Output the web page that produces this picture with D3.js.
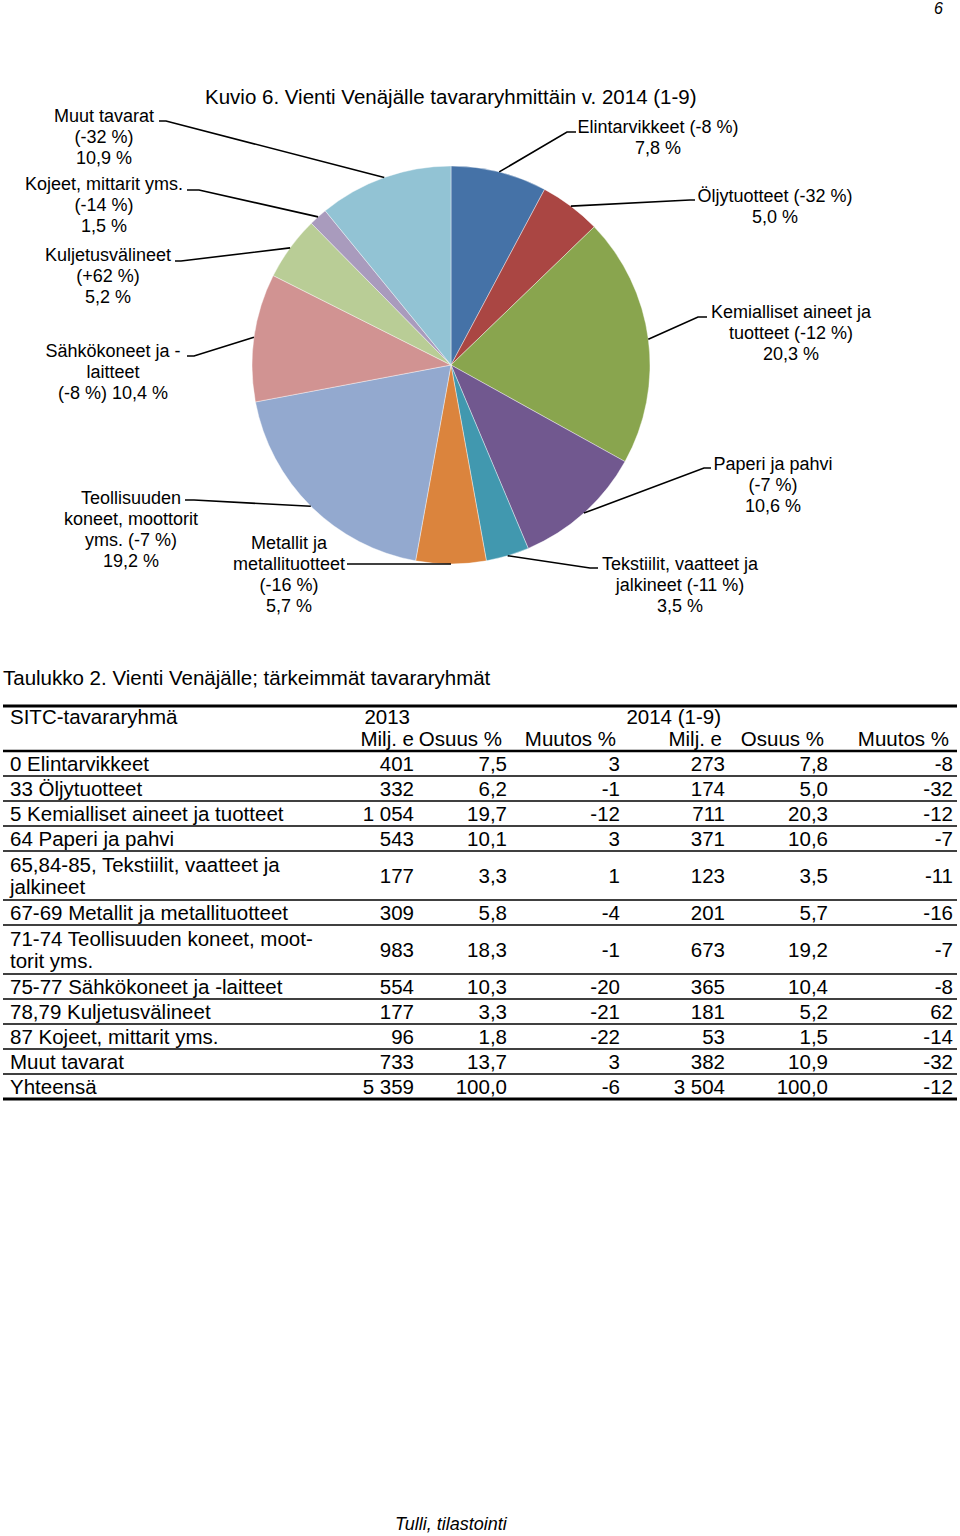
<!DOCTYPE html>
<html>
<head>
<meta charset="utf-8">
<script src="https://cdn.jsdelivr.net/npm/d3@7"></script>
<style>
  html, body { margin: 0; padding: 0; background: #fff; }
  svg { display: block; }
  text { font-family: "Liberation Sans", Arial, sans-serif; fill: #000; }
</style>
</head>
<body>
<svg id="chart" width="960" height="1536"></svg>
<script>
// ---------- Pie data (2014 (1-9)) ----------
const categories = ["Elintarvikkeet", "Öljytuotteet", "Kemialliset aineet ja tuotteet", "Paperi ja pahvi",
  "Tekstiilit, vaatteet ja jalkineet", "Metallit ja metallituotteet", "Teollisuuden koneet, moottorit yms.",
  "Sähkökoneet ja -laitteet", "Kuljetusvälineet", "Kojeet, mittarit yms.", "Muut tavarat"];
const shares2014 = [7.8, 5.0, 20.3, 10.6, 3.5, 5.7, 19.2, 10.4, 5.2, 1.5, 10.9];
const changes2014 = [-8, -32, -12, -7, -11, -16, -7, -8, 62, -14, -32];
const sliceColors = ["#4572A7", "#AA4643", "#89A54E", "#71588F", "#4198AF", "#DB843D",
  "#93A9CF", "#D19392", "#B9CD96", "#A99BBD", "#92C3D4"];
// label lines: %c = change, %s = share
const labelLines = [
  ["Elintarvikkeet %c", "%s"],
  ["Öljytuotteet %c", "%s"],
  ["Kemialliset aineet ja", "tuotteet %c", "%s"],
  ["Paperi ja pahvi", "%c", "%s"],
  ["Tekstiilit, vaatteet ja", "jalkineet %c", "%s"],
  ["Metallit ja", "metallituotteet", "%c", "%s"],
  ["Teollisuuden", "koneet, moottorit", "yms. %c", "%s"],
  ["Sähkökoneet ja -", "laitteet", "%c %s"],
  ["Kuljetusvälineet", "%c", "%s"],
  ["Kojeet, mittarit yms.", "%c", "%s"],
  ["Muut tavarat", "%c", "%s"]
];

// ---------- Table data ----------
const tableGroups = ["0 Elintarvikkeet", "33 Öljytuotteet", "5 Kemialliset aineet ja tuotteet", "64 Paperi ja pahvi",
  "65,84-85, Tekstiilit, vaatteet ja|jalkineet", "67-69 Metallit ja metallituotteet",
  "71-74 Teollisuuden koneet, moot-|torit yms.", "75-77 Sähkökoneet ja -laitteet", "78,79 Kuljetusvälineet",
  "87 Kojeet, mittarit yms.", "Muut tavarat", "Yhteensä"];
const milj2013 = [401, 332, 1054, 543, 177, 309, 983, 554, 177, 96, 733, 5359];
const osuus2013 = [7.5, 6.2, 19.7, 10.1, 3.3, 5.8, 18.3, 10.3, 3.3, 1.8, 13.7, 100.0];
const muutos2013 = [3, -1, -12, 3, 1, -4, -1, -20, -21, -22, 3, -6];
const milj2014 = [273, 174, 711, 371, 123, 201, 673, 365, 181, 53, 382, 3504];
const osuus2014 = [7.8, 5.0, 20.3, 10.6, 3.5, 5.7, 19.2, 10.4, 5.2, 1.5, 10.9, 100.0];
const muutos2014 = [-8, -32, -12, -7, -11, -16, -7, -8, 62, -14, -32, -12];
const headerTop = ["SITC-tavararyhmä", "2013", "2014 (1-9)"];
const headerSub = ["Milj. e", "Osuus %", "Muutos %", "Milj. e", "Osuus %", "Muutos %"];

// ---------- Drawing ----------
const fi = d3.formatLocale({decimal: ",", thousands: " ", grouping: [3], currency: ["", " €"], minus: "-"});
const fInt = fi.format(",d");
const f1 = fi.format(".1f");
const fSigned = fi.format("+d");

const svg = d3.select("#chart");
svg.append("rect").attr("width", 960).attr("height", 1536).attr("fill", "#fff");

// page number
svg.append("text").attr("x", 943).attr("y", 14).attr("text-anchor", "end")
  .style("font-size", "16px").style("font-style", "italic").text("6");

// title
svg.append("text").attr("x", 205).attr("y", 104).style("font-size", "20.5px")
  .text("Kuvio 6. Vienti Venäjälle tavararyhmittäin v. 2014 (1-9)");

const cx = 451, cy = 365, R = 199;
const pie = d3.pie().sort(null).value(d => d)(shares2014);
const arc = d3.arc().innerRadius(0).outerRadius(R);
const g = svg.append("g").attr("transform", `translate(${cx},${cy})`);
g.selectAll("path").data(pie).join("path")
  .attr("d", arc).attr("fill", (d, i) => sliceColors[i])
  .attr("stroke", "#fff").attr("stroke-width", 0.4);

// label layout: [anchor x (center), first baseline y, leader start x, leader start y, elbow x]
const labelLayout = [
  [658, 133, 576, 132, 567],
  [775, 202, 695, 200, 690],
  [791, 318, 707, 317, 698],
  [773, 470, 711, 468, 704],
  [680, 570, 598, 568, 590],
  [289, 549, 347, 564, 347],
  [131, 504, 185, 500, 194],
  [113, 357, 187, 356, 194],
  [108, 261, 175, 261, 181],
  [104, 190, 187, 190, 199],
  [104, 122, 159, 121, 166]
];
const lineH = 21;
pie.forEach((d, i) => {
  const mid = (d.startAngle + d.endAngle) / 2;
  const px = cx + R * Math.sin(mid), py = cy - R * Math.cos(mid);
  const L = labelLayout[i];
  svg.append("polyline")
    .attr("points", `${L[2]},${L[3]} ${L[4]},${L[3]} ${px},${py}`)
    .attr("fill", "none").attr("stroke", "#000").attr("stroke-width", 1.6);
  const t = svg.append("text").attr("text-anchor", "middle").style("font-size", "18px");
  labelLines[i].forEach((ln, k) => {
    const s = ln.replace("%c", "(" + (changes2014[i] > 0 ? fSigned(changes2014[i]) : fInt(changes2014[i])) + " %)")
                .replace("%s", f1(shares2014[i]) + " %");
    t.append("tspan").attr("x", L[0]).attr("y", L[1] + k * lineH).text(s);
  });
});

// ---------- Table ----------
svg.append("text").attr("x", 3).attr("y", 685).style("font-size", "20.5px")
  .text("Taulukko 2. Vienti Venäjälle; tärkeimmät tavararyhmät");

const tx0 = 3, tx1 = 957;
const colRight = [414, 507, 620, 725, 828, 953];
const headRight = [414, 502, 616, 722, 824, 949];
const fs = "20.5px";

svg.append("line").attr("x1", tx0).attr("x2", tx1).attr("y1", 706).attr("y2", 706)
  .attr("stroke", "#000").attr("stroke-width", 3);
svg.append("text").attr("x", 10).attr("y", 724).style("font-size", fs).text(headerTop[0]);
svg.append("text").attr("x", 410).attr("y", 724).attr("text-anchor", "end").style("font-size", fs).text(headerTop[1]);
svg.append("text").attr("x", 721).attr("y", 724).attr("text-anchor", "end").style("font-size", fs).text(headerTop[2]);
headerSub.forEach((h, j) => {
  svg.append("text").attr("x", headRight[j]).attr("y", 746).attr("text-anchor", "end").style("font-size", fs).text(h);
});
svg.append("line").attr("x1", tx0).attr("x2", tx1).attr("y1", 751).attr("y2", 751)
  .attr("stroke", "#000").attr("stroke-width", 2.5);

const nLines = tableGroups.map(s => s.split("|").length);
const rowH = n => n === 1 ? 25 : 49;
let y = 751;
tableGroups.forEach((name, i) => {
  const h = rowH(nLines[i]);
  const parts = name.split("|");
  parts.forEach((p, k) => {
    const by = parts.length === 1 ? y + 19.5 : y + 21 + k * 22;
    svg.append("text").attr("x", 10).attr("y", by).style("font-size", fs).text(p);
  });
  const vals = [fInt(milj2013[i]), f1(osuus2013[i]), fInt(muutos2013[i]),
                fInt(milj2014[i]), f1(osuus2014[i]), fInt(muutos2014[i])];
  vals.forEach((v, j) => {
    svg.append("text").attr("x", colRight[j]).attr("y", y + h / 2 + 7).attr("text-anchor", "end")
      .style("font-size", fs).text(v);
  });
  y += h;
  const last = i === tableGroups.length - 1;
  svg.append("line").attr("x1", tx0).attr("x2", tx1).attr("y1", y).attr("y2", y)
    .attr("stroke", "#000").attr("stroke-width", last ? 3 : 1.5);
});

// source
svg.append("text").attr("x", 395).attr("y", 1530).style("font-size", "18px").style("font-style", "italic")
  .text("Tulli, tilastointi");
</script>
</body>
</html>
